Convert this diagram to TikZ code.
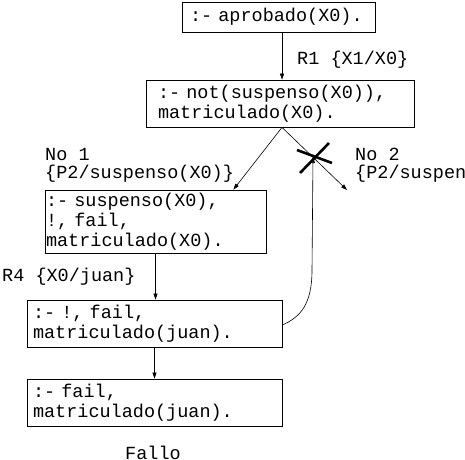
\documentclass[tikz,border=0pt]{standalone}
\usepackage{fontspec}
\newfontfamily\cour{Liberation Mono}
\usetikzlibrary{arrows.meta}
\begin{document}
\begin{tikzpicture}[x=1pt,y=-1pt,
  every node/.style={font=\cour\fontsize{18.5}{20}\selectfont},
  box/.style={draw,line width=0.8pt,align=left,inner ysep=0pt,anchor=center},
  lbl/.style={anchor=west,inner sep=0pt},
  arr/.style={line width=0.6pt,-{Triangle[length=6pt,width=4pt]}},
  crossline/.style={line width=2.6pt}]
\useasboundingbox (0,0) rectangle (465,459);
\node[box,minimum width=193,minimum height=30,inner xsep=8,text width=177] (b1) at (278.5,17) {:- aprobado(X0).};
\node[box,minimum width=268,minimum height=47,inner xsep=12,text width=244] (b2) at (280,103.5) {:- not(suspenso(X0)),\\matriculado(X0).};
\node[box,minimum width=221,minimum height=63,inner xsep=1,text width=219] (b3) at (155.5,221.5) {:- suspenso(X0),\\!, fail,\\matriculado(X0).};
\node[box,minimum width=255,minimum height=47,inner xsep=6,text width=243] (b4) at (154.5,323.5) {:- !, fail,\\matriculado(juan).};
\node[box,minimum width=255,minimum height=47,inner xsep=6,text width=243] (b5) at (154.5,402.5) {:- fail,\\matriculado(juan).};
\node[lbl] (r1) at (297,60) {R1 \{X1/X0\}};
\node[lbl] (n1) at (45,154) {No 1};
\node[lbl] (s1) at (45,174) {\{P2/suspenso(X0)\}};
\node[lbl] (n2) at (355,154) {No 2};
\node[lbl] (s2) at (355,174) {\{P2/suspenso(X0)\}};
\node[lbl] (r4) at (2,277) {R4 \{X0/juan\}};
\node[lbl] (fa) at (125,453) {Fallo};
\coordinate (x0) at (313,157);
\coordinate (e2) at (347,190);
\draw[arr] ([xshift=3.5]b1.south) -- ([xshift=3.5]b1.south |- b2.north);
\draw[arr] ([xshift=2]b2.south) -- ([xshift=-33]b3.north east);
\draw[arr] ([xshift=2]b2.south) -- (e2);
\draw[arr] (b3.south) -- (b3.south |- b4.north);
\draw[arr] (b4.south) -- (b5.north);
\draw[arr] ([yshift=-1.5]b4.east) .. controls (300,317) and (312,305) .. (312,270) -- (x0);
\draw[crossline] (300,173) -- (329,143);
\draw[crossline] (297,150) -- (332,163);
\end{tikzpicture}
\end{document}
